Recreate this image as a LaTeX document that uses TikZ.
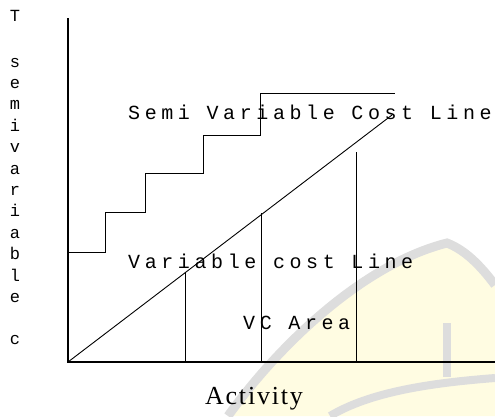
\documentclass[tikz,border=0pt]{standalone}
\usepackage{fontspec}
\setmainfont{Liberation Serif}
\setmonofont{Liberation Mono}

\definecolor{wmgray}{RGB}{221,221,221}
\definecolor{wmyellow}{RGB}{255,252,226}

\tikzset{
  axis/.style={line width=1.3pt},
  cost/.style={line width=0.9pt},
  drop/.style={line width=0.9pt},
  lbl/.style={inner sep=0pt, anchor=base west,
    font=\ttfamily\fontsize{20}{20}\selectfont\addfontfeature{LetterSpace=23}},
  vlbl/.style={inner sep=0pt, anchor=base,
    font=\ttfamily\fontsize{17}{17}\selectfont},
}

\begin{document}
\begin{tikzpicture}[x=1pt,y=-1pt]
\useasboundingbox (0,0) rectangle (495,416);

% faint logo in the back
\fill[wmyellow] (228,416) .. controls (275,350) and (360,265) .. (447,243)
  .. controls (465,250) and (480,265) .. (495,285) -- (495,416) -- cycle;
\draw[wmgray, line width=9pt] (228,416) .. controls (275,350) and (360,265) .. (447,243)
  .. controls (465,250) and (480,265) .. (495,285);
\draw[wmgray, line width=8pt] (447,323) -- (447,377);
\draw[wmgray, line width=8pt] (330,416) .. controls (370,392) and (430,383) .. (495,378);

% axes
\coordinate (o) at (68,362);
\coordinate (ytop) at (68,18);
\coordinate (xend) at (495,362);
\draw[axis] (ytop) -- (o) -- (xend);

% semi variable cost steps
\coordinate (s0) at (68,252);
\coordinate (s1) at (105,212);
\coordinate (s2) at (145,173);
\coordinate (s3) at (203,135);
\coordinate (s4) at (260,93);
\coordinate (s5) at (395,93);
\draw[cost] (s0) -| (s1) -| (s2) -| (s3) -| (s4) -- (s5);

% variable cost line
\coordinate (vc) at (392,115);
\draw[cost] (o) -- (vc);

% activity levels
\coordinate (a1) at (185,273);
\coordinate (a1b) at (185,362);
\coordinate (a2) at (261,213);
\coordinate (a2b) at (261,362);
\coordinate (a3) at (356,152);
\coordinate (a3b) at (356,362);
\draw[drop] (a1) -- (a1b);
\draw[drop] (a2) -- (a2b);
\draw[drop] (a3) -- (a3b);

% labels
\node[lbl] (svc) at (128,119) {Semi Variable Cost Line};
\node[lbl] (vcl) at (128,268) {Variable cost Line};
\node[lbl] (vca) at (243,329) {VC Area};
\node[inner sep=0pt, anchor=base,
  font=\fontsize{26}{26}\selectfont\addfontfeature{LetterSpace=7}] (act) at (254,404) {Activity};

% y axis title, one letter per line
\node[vlbl] (yt) at (15,21) {T};
\foreach \ch [count=\i from 0] in {s,e,m,i,v,a,r,i,a,b,l,e}
  \node[vlbl] (y\i) at (15,67+21.4*\i) {\ch};
\node[vlbl] (yc) at (15,344) {c};
\end{tikzpicture}
\end{document}
